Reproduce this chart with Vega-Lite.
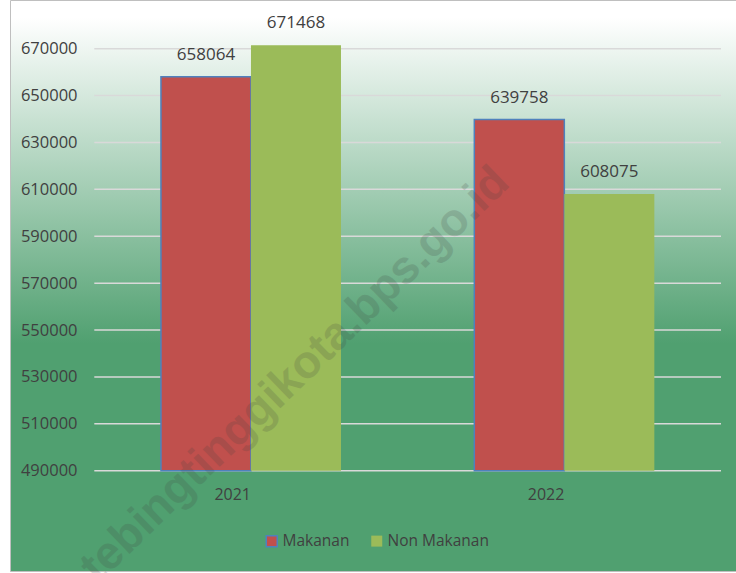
{
  "$schema": "https://vega.github.io/schema/vega-lite/v6.json",
  "width": 726,
  "height": 571,
  "autosize": {"type": "none"},
  "padding": {"left": 10, "top": 0, "right": 0, "bottom": 2},
  "config": {
    "font": "Open Sans",
    "view": {
      "fill": {"gradient": "linear", "x1": 0, "y1": 0, "x2": 0, "y2": 1,
        "stops": [
          {"offset": 0, "color": "#FFFFFF"},
          {"offset": 0.03, "color": "#FFFFFF"},
          {"offset": 0.6, "color": "#50A070"},
          {"offset": 1, "color": "#50A070"}
        ]},
      "stroke": "#BFBFBF"
    }
  },
  "layer": [
    {
      "data": {"values": [{"g": 490000}, {"g": 510000}, {"g": 530000}, {"g": 550000}, {"g": 570000}, {"g": 590000}, {"g": 610000}, {"g": 630000}, {"g": 650000}, {"g": 670000}]},
      "mark": {"type": "rule", "color": "#D9D9D9", "strokeWidth": 1.5},
      "encoding": {
        "y": {"field": "g", "type": "quantitative"},
        "x": {"datum": "2021", "type": "nominal", "bandPosition": 0},
        "x2": {"datum": "2022", "bandPosition": 1}
      }
    },
    {
      "data": {"values": [
        {"tahun": "2021", "kategori": "Makanan", "nilai": 658064},
        {"tahun": "2021", "kategori": "Non Makanan", "nilai": 671468},
        {"tahun": "2022", "kategori": "Makanan", "nilai": 639758},
        {"tahun": "2022", "kategori": "Non Makanan", "nilai": 608075}
      ]},
      "layer": [
        {
          "mark": {"type": "bar", "strokeWidth": 1.5},
          "encoding": {
            "x": {"field": "tahun", "type": "nominal",
              "scale": {"domain": ["2021", "2022"], "range": [84.3, 711], "paddingInner": 0, "paddingOuter": 0},
              "axis": {"title": null, "orient": "bottom", "domain": false, "ticks": false, "tickSize": 0, "labelPadding": 2, "offset": -79, "labelAngle": 0, "labelFontSize": 16, "labelColor": "#404040", "labelFont": "Open Sans"}},
            "xOffset": {"field": "kategori", "type": "nominal",
              "scale": {"domain": ["Makanan", "Non Makanan"], "paddingInner": 0, "paddingOuter": 0.7406}},
            "y": {"field": "nilai", "type": "quantitative",
              "scale": {"domain": [447218, 690773], "nice": false, "zero": false},
              "axis": {"title": null, "values": [490000, 510000, 530000, 550000, 570000, 590000, 610000, 630000, 650000, 670000], "format": "d", "grid": false, "domain": false, "ticks": false, "tickSize": 0, "labelPadding": 0, "offset": -67, "labelFontSize": 16.5, "labelColor": "#404040", "labelFont": "Open Sans"}},
            "y2": {"datum": 490000},
            "fill": {"field": "kategori", "type": "nominal",
              "scale": {"domain": ["Makanan", "Non Makanan"], "range": ["#C0504D", "#9BBB59"]},
              "legend": {"title": null, "orient": "none", "direction": "horizontal", "legendX": 254, "legendY": 533, "symbolType": "square", "symbolSize": 121, "symbolStrokeWidth": 1.5, "labelFontSize": 15.5, "labelColor": "#404040", "labelFont": "Open Sans", "labelOffset": 3, "columnPadding": 18, "padding": 0}},
            "stroke": {"field": "kategori", "type": "nominal",
              "scale": {"domain": ["Makanan", "Non Makanan"], "range": ["#4F81BD", "transparent"]},
              "legend": {"title": null, "orient": "none", "direction": "horizontal", "legendX": 254, "legendY": 533, "symbolType": "square", "symbolSize": 121, "symbolStrokeWidth": 1.5, "labelFontSize": 15.5, "labelColor": "#404040", "labelFont": "Open Sans", "labelOffset": 3, "columnPadding": 18, "padding": 0}}
          }
        },
        {
          "mark": {"type": "text", "fontSize": 17, "color": "#404040", "baseline": "middle", "dy": -22, "font": "Open Sans"},
          "encoding": {
            "x": {"field": "tahun", "type": "nominal"},
            "xOffset": {"field": "kategori", "type": "nominal"},
            "y": {"field": "nilai", "type": "quantitative"},
            "text": {"field": "nilai", "type": "quantitative", "format": "d"}
          }
        }
      ]
    },
    {
      "data": {"values": [{"w": "tebingtinggikota.bps.go.id"}]},
      "mark": {"type": "text", "angle": 316, "fontSize": 46, "fontWeight": "bold", "font": "Liberation Sans", "color": "#404040", "opacity": 0.18, "align": "center", "baseline": "middle"},
      "encoding": {
        "x": {"datum": "2021", "type": "nominal", "bandPosition": 0.64},
        "y": {"datum": 531000, "type": "quantitative"},
        "text": {"field": "w", "type": "nominal"}
      }
    }
  ]
}
